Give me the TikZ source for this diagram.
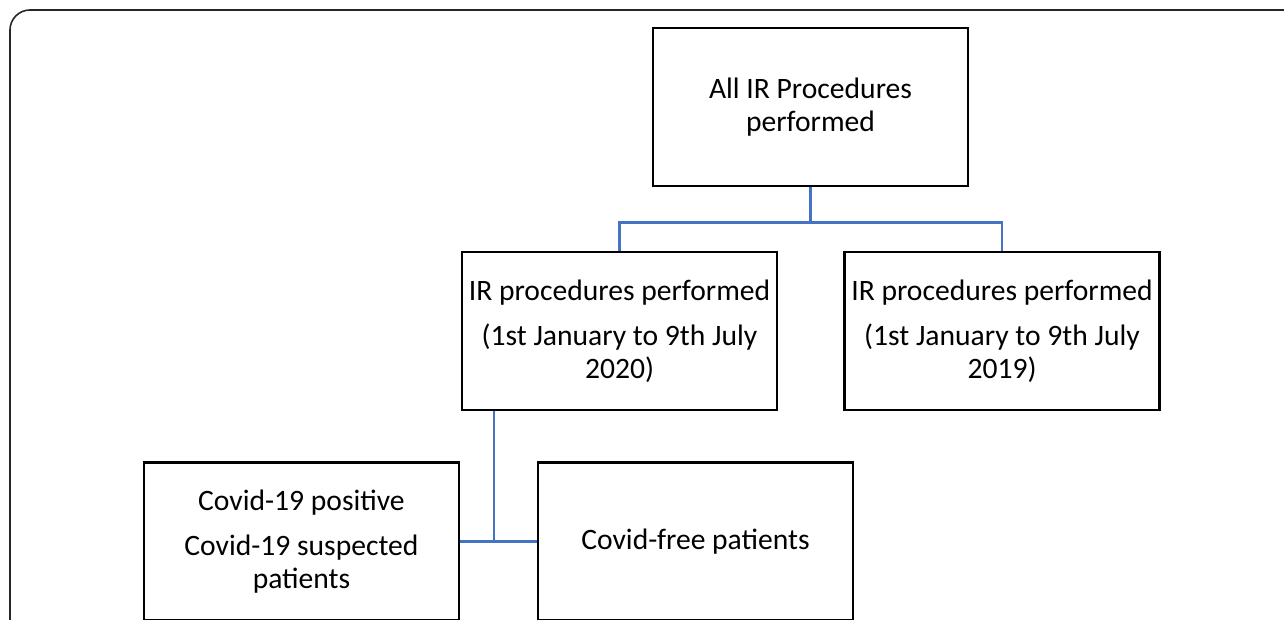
\documentclass[tikz,border=0pt]{standalone}
\usepackage{fontspec}
\setmainfont{Carlito}
\definecolor{linkblue}{HTML}{4472C4}

\begin{document}
\begin{tikzpicture}[x=0.5pt,y=-0.5pt,
  box/.style={draw=black,line width=1.4pt,minimum width=315*0.5pt,minimum height=158*0.5pt,
    align=center,inner sep=0pt,font=\fontsize{14.8}{16.5}\selectfont},
  link/.style={draw=linkblue,line width=1.4pt}]
\useasboundingbox (0,0) rectangle (1284,620);
\clip (0,0) rectangle (1284,620);

% outer frame
\draw[line width=0.8pt,draw=black!85,rounded corners=10] (1300,10) -- (10,10) -- (10,640);

% boxes
\node[box] (allproc) at (810.5,107) {All IR Procedures\\ performed};
\node[box] (proc2020) at (619.5,331) {IR procedures performed\\[6pt] (1st January to 9th July\\ 2020)};
\node[box] (proc2019) at (1002,331) {IR procedures performed\\[6pt] (1st January to 9th July\\ 2019)};
\node[box] (covidpos) at (301.5,541.5) {Covid-19 positive\\[6pt] Covid-19 suspected\\ patients};
\node[box] (covidfree) at (695.5,541.5) {Covid-free patients};

% connectors
\draw[link] (allproc.south) -- ++(0,35) -| (proc2020.north);
\draw[link] (allproc.south) -- ++(0,35) -| (proc2019.north);
\coordinate (split) at (494,541.5);
\draw[link] (proc2020.south -| split) -- (split);
\draw[link] (covidpos.east) -- (covidfree.west);
\end{tikzpicture}
\end{document}
